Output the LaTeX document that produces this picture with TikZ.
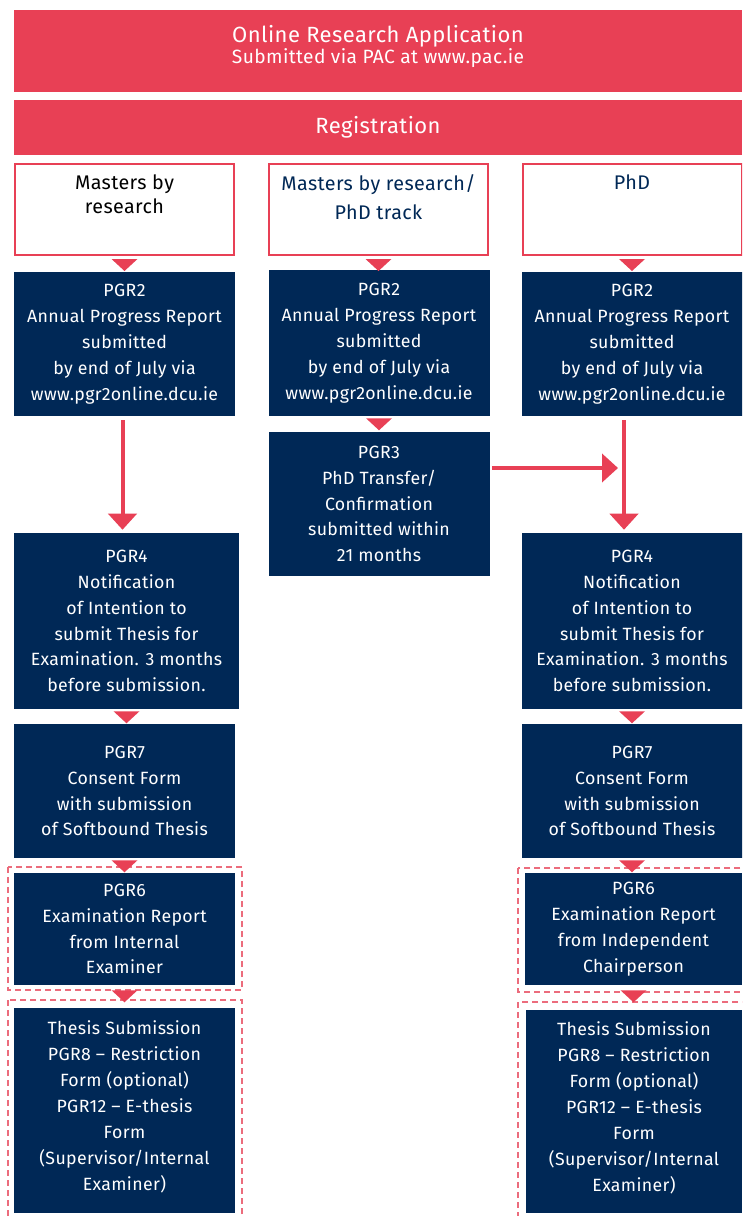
\documentclass[tikz,border=0pt]{standalone}
\usepackage{fontspec}
\setmainfont{Fira Sans}[LetterSpace=2]
\usepackage{xcolor}
\usetikzlibrary{arrows.meta, calc}

\definecolor{dcured}{RGB}{232,64,85}
\definecolor{dcunavy}{RGB}{0,40,86}
\definecolor{dashred}{RGB}{236,108,124}

\newlength{\pxu}
\setlength{\pxu}{0.75pt}

% small red triangle under a box
\newcommand{\drop}[2][2]{\fill[dcured] ($(#2.south)+(-13,#1)$) -- ++(26,0) -- ++(-13,12) -- cycle;}

\tikzset{
  redbar/.style={fill=dcured, text=white, align=center, inner sep=0pt, minimum width=728\pxu},
  trackbox/.style={draw=dcured, line width=2\pxu, fill=white, minimum width=219\pxu, minimum height=91\pxu},
  tracktext/.style={anchor=north, inner sep=0pt, align=center, font=\fontsize{14.8}{18}\selectfont},
  formbox/.style={fill=dcunavy, text=white, align=center, inner sep=0pt, minimum width=221\pxu, font=\fontsize{13.3}{19.4}\selectfont},
  dashbox/.style={draw=dashred, line width=1.2pt, dash pattern=on 4.5pt off 3pt},
  bigarrow/.style={draw=dcured, line width=3pt, -{Triangle[width=21pt, length=12pt]}},
}

\begin{document}
\begin{tikzpicture}[x=0.75pt, y=-0.75pt]
    \clip (0,0) rectangle (742,1216);
    \fill[white] (0,0) rectangle (742,1216);

    \node[redbar, minimum height=82\pxu] at (378,51) (apply) {};
    \node[text=white, align=center, inner sep=0pt] at (378,46) (applytxt) {{\fontsize{16.5}{19}\selectfont Online Research Application}\\{\fontsize{14.4}{19}\selectfont Submitted via PAC at www.pac.ie}};
    \node[redbar, minimum height=55\pxu, font=\fontsize{16.5}{18}\selectfont] at (378,127.5) (reg) {Registration};

    % the three tracks
    \node[trackbox] at (124.5,209.5) (mres) {};
    \node[trackbox] at (378.5,209.5) (track) {};
    \node[trackbox] at (632,209.5) (phd) {};
    \node[tracktext, text=black] at ($(mres.north)+(0,11)$) (mrestxt) {Masters by\\research};
    \node[tracktext, text=dcunavy] at ($(track.north)+(0,11)$) (tracktxt) {Masters by research/\\[4pt]PhD track};
    \node[tracktext, text=dcunavy] at ($(phd.north)+(0,11)$) (phdtxt) {PhD};

    % PGR2
    \node[formbox, minimum height=144\pxu] at (124.5,344) (pgr2a) {PGR2\\Annual Progress Report\\submitted\\by end of July via\\www.pgr2online.dcu.ie};
    \node[formbox, minimum height=146\pxu] at (379,343) (pgr2b) {PGR2\\Annual Progress Report\\submitted\\by end of July via\\www.pgr2online.dcu.ie};
    \node[formbox, minimum height=144\pxu] at (632,344) (pgr2c) {PGR2\\Annual Progress Report\\submitted\\by end of July via\\www.pgr2online.dcu.ie};

    \node[formbox, minimum height=144\pxu] at (379,504) (pgr3) {PGR3\\PhD Transfer/\\Confirmation\\submitted within\\21 months};

    % PGR4
    \node[formbox, minimum width=225\pxu, minimum height=176\pxu] at (126.5,621) (pgr4a) {PGR4\\Notification\\of Intention to\\submit Thesis for\\Examination. 3 months\\before submission.};
    \node[formbox, minimum height=176\pxu] at (632,621) (pgr4c) {PGR4\\Notification\\of Intention to\\submit Thesis for\\Examination. 3 months\\before submission.};

    % PGR7
    \node[formbox, minimum height=134\pxu] at (124.5,791) (pgr7a) {PGR7\\Consent Form\\with submission\\of Softbound Thesis};
    \node[formbox, minimum height=134\pxu] at (632,791) (pgr7c) {PGR7\\Consent Form\\with submission\\of Softbound Thesis};

    % PGR6
    \draw[dashbox] (8,867) rectangle (242,990);
    \draw[dashbox] (518,868) rectangle (750,992);
    \node[formbox, minimum height=112\pxu] at (124.5,929) (pgr6a) {PGR6\\Examination Report\\from Internal\\Examiner};
    \node[formbox, minimum width=217\pxu, minimum height=112\pxu] at (633.5,929) (pgr6c) {PGR6\\Examination Report\\from Independent\\Chairperson};

    % thesis submission
    \draw[dashbox] (8,1000) rectangle (242,1225);
    \draw[dashbox] (518,1002) rectangle (750,1225);
    \node[formbox, minimum height=205\pxu] at (124.5,1110.5) (thesisa) {Thesis Submission\\PGR8 -- Restriction\\Form (optional)\\PGR12 -- E-thesis\\Form\\(Supervisor/Internal\\Examiner)\\[-12pt]\mbox{}};
    \node[formbox, minimum width=216\pxu, minimum height=203\pxu] at (634,1111.5) (thesisc) {Thesis Submission\\PGR8 -- Restriction\\Form (optional)\\PGR12 -- E-thesis\\Form\\(Supervisor/Internal\\Examiner)\\[-12pt]\mbox{}};

    % drops
    \drop[3]{mres}
    \drop[3]{track}
    \drop[3]{phd}
    \drop{pgr2b}
    \drop{pgr4a}
    \drop{pgr4c}
    \drop{pgr7a}
    \drop{pgr7c}
    \drop[5]{pgr6a}
    \drop[5]{pgr6c}

    % long arrows
    \coordinate (merge) at (624,468);
    \draw[bigarrow, shorten <=3pt, shorten >=2.25pt] ([xshift=-1.5pt]pgr2a.south) -- ([xshift=-1.5pt]pgr2a.south |- pgr4a.north);
    \draw[bigarrow, shorten <=3pt, shorten >=2.25pt] (merge |- pgr2c.south) -- (merge |- pgr4c.north);
    \draw[bigarrow, shorten <=1.5pt, shorten >=4.5pt] (pgr3.east |- merge) -- (merge);
\end{tikzpicture}
\end{document}
